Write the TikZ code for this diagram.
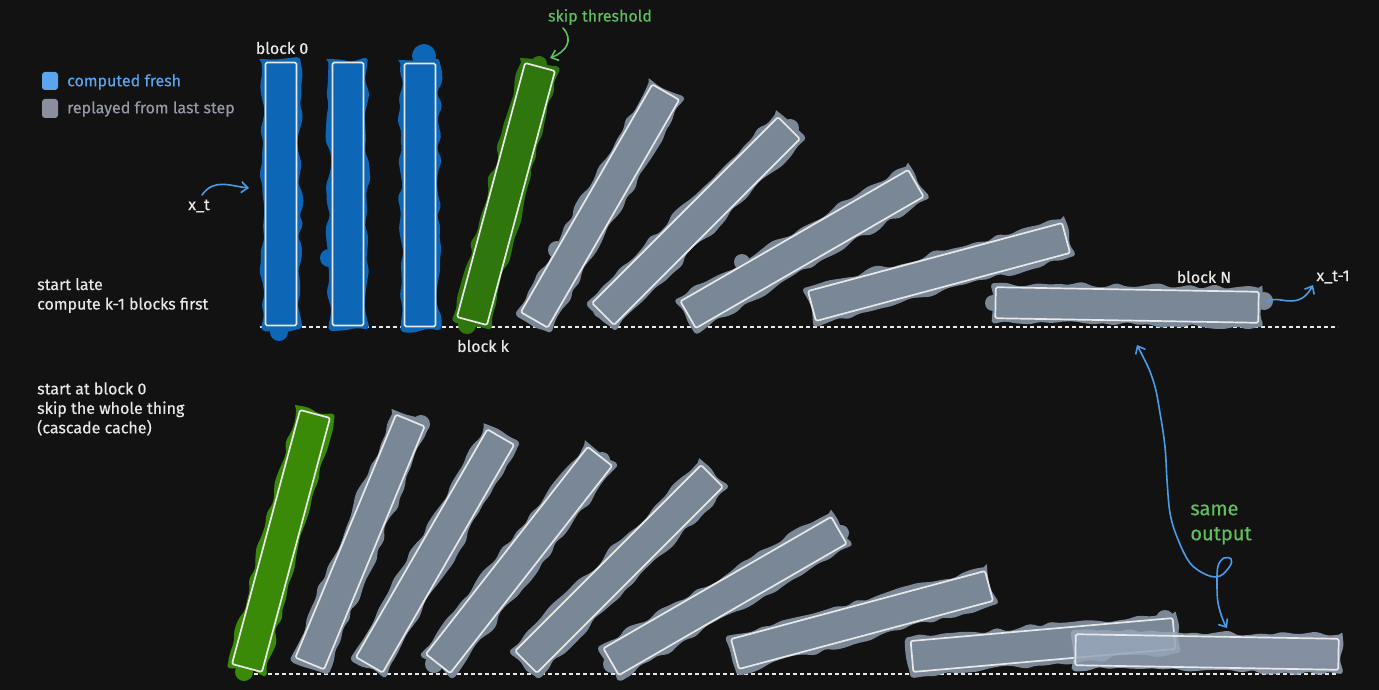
\documentclass[tikz,border=0pt]{standalone}
\usepackage{fontspec}
\setmainfont{Fira Sans}[FakeBold=0.4]
\usetikzlibrary{arrows.meta,decorations.pathmorphing}
\definecolor{bg}{HTML}{121212}
\definecolor{inkc}{HTML}{E8E8E8}
\definecolor{bblue}{HTML}{0E67B6}
\definecolor{gtop}{HTML}{2F760D}
\definecolor{gbot}{HTML}{3A8A07}
\definecolor{gfill}{HTML}{7A8797}
\definecolor{lfill}{HTML}{97A6BA}
\definecolor{legblue}{HTML}{5AA5EE}
\definecolor{leggray}{HTML}{8A8E9E}
\definecolor{legtext}{HTML}{9599AA}
\definecolor{arrblue}{HTML}{4A9BEA}
\definecolor{labgreen}{HTML}{5FBF5F}
\newcommand{\dominobar}[4]{%
  \begin{scope}[shift={(#1,#2)},rotate=-#3]
    \fill[#4,decorate,decoration={random steps,segment length=11pt,amplitude=3.2pt},rounded corners=4pt] (-19.5,-135) rectangle (19.5,135);
    \draw[outl] (-15.5,-131.5) rectangle (15.5,131.5);
  \end{scope}}
\begin{document}
\begin{tikzpicture}[x=1pt,y=-1pt,
  outl/.style={draw=inkc,line width=1.7pt,line join=round,line cap=round,rounded corners=1.5pt},
  lbl/.style={text=inkc,inner sep=0pt,font=\fontsize{16}{19.5}\selectfont},
  base/.style={draw=inkc,line width=1.2pt,dash pattern=on 4pt off 3pt},
  arr/.style={line width=1.6pt,line cap=round,-{Straight Barb[length=6.5pt,width=11pt,line width=1.6pt]}},
  darr/.style={line width=1.6pt,line cap=round,{Straight Barb[length=6.5pt,width=11pt,line width=1.6pt]}-{Straight Barb[length=6.5pt,width=11pt,line width=1.6pt]}}]
\pgfmathsetseed{7}
\useasboundingbox (0,0) rectangle (1379,690);
\fill[bg] (0,0) rectangle (1379,690);

% legend
\fill[legblue,rounded corners=3pt] (42,72) rectangle (58,90);
\fill[leggray,rounded corners=3pt] (42,99) rectangle (58,118);
\node[lbl,anchor=west,text=legblue] (legA) at (67,82) {computed fresh};
\node[lbl,anchor=west,text=legtext] (legB) at (67,109) {replayed from last step};

% baselines
\draw[base] (260,327) -- (1338,327);
\draw[base] (240,674) -- (1338,674);

% stray fill blobs (behind the bars)
\fill[bblue] (279,332) circle (9) (329,258) circle (9) (424,56) circle (12);
\fill[gtop] (539,64) circle (8) (467,325) circle (9);
\fill[gfill] (557,250) circle (9) (790,128) circle (9) (601,310) circle (8) (742,262) circle (8) (993,303) circle (8) (1264,301) circle (9);
\fill[gbot] (244,672) circle (9);
\fill[gfill] (421,424) circle (9) (602,460) circle (8) (434,664) circle (9) (612,664) circle (9) (841,533) circle (8) (1165,619) circle (9);

% top row
\dominobar{281}{194}{0}{bblue}
\dominobar{348}{194}{0}{bblue}
\dominobar{420}{195}{0}{bblue}
\dominobar{506}{194}{15}{gtop}
\dominobar{600}{206}{30}{gfill}
\dominobar{696}{221}{45}{gfill}
\dominobar{802}{249}{60}{gfill}
\dominobar{939}{272}{75}{gfill}
\dominobar{1127}{305}{91}{gfill}

% bottom row
\dominobar{281}{541}{15}{gbot}
\dominobar{360}{542}{22.5}{gfill}
\dominobar{435}{551}{30}{gfill}
\dominobar{519}{560}{38}{gfill}
\dominobar{619}{569}{45}{gfill}
\dominobar{725}{596}{60}{gfill}
\dominobar{862}{620}{75}{gfill}
\dominobar{1043}{645}{85}{gfill}
\dominobar{1207}{652}{91}{lfill,opacity=0.85}

% labels
\node[lbl] (b0) at (282,48) {block 0};
\node[lbl,text=labgreen] (skip) at (600,17) {skip threshold};
\node[lbl] (xt) at (199,206) {x\_t};
\node[lbl,anchor=west,align=left] (late) at (37,295.5) {start late\\compute k-1 blocks first};
\node[lbl] (bk) at (483,346) {block k};
\node[lbl] (bN) at (1204,277) {block N};
\node[lbl] (xt1) at (1333,277) {x\_t-1};
\node[lbl,anchor=west,align=left] (early) at (37,409) {start at block 0\\skip the whole thing\\(cascade cache)};
\node[lbl,text=labgreen,align=left,font=\fontsize{20}{25}\selectfont] (same) at (1221,524.5) {same\\output};

% connector coordinates
\coordinate (xtS) at (202,195);
\coordinate (xtE) at (249,188);
\coordinate (skS) at (563,28);
\coordinate (skE) at (550,58);
\coordinate (nS) at (1267,302);
\coordinate (nE) at (1313,285);
\coordinate (soA) at (1137,345);
\coordinate (soB) at (1227,628);

\draw[arr,arrblue] (xtS) .. controls (214,178) and (230,186) .. (xtE);
\draw[arr,labgreen] (skS) .. controls (574,40) and (566,52) .. (skE);
\draw[arr,arrblue] (nS) .. controls (1277,293) and (1298,313) .. (nE);
\draw[darr,arrblue] plot[smooth,tension=0.6] coordinates {(soA) (1153,380) (1160,413) (1165,447) (1167,480) (1170,513) (1177,537) (1190,563) (1207,575) (1220,576) (1230,566) (1231,559) (1224,558) (1218,566) (1217,583) (1218,603) (1223,620) (soB)};
\end{tikzpicture}
\end{document}
